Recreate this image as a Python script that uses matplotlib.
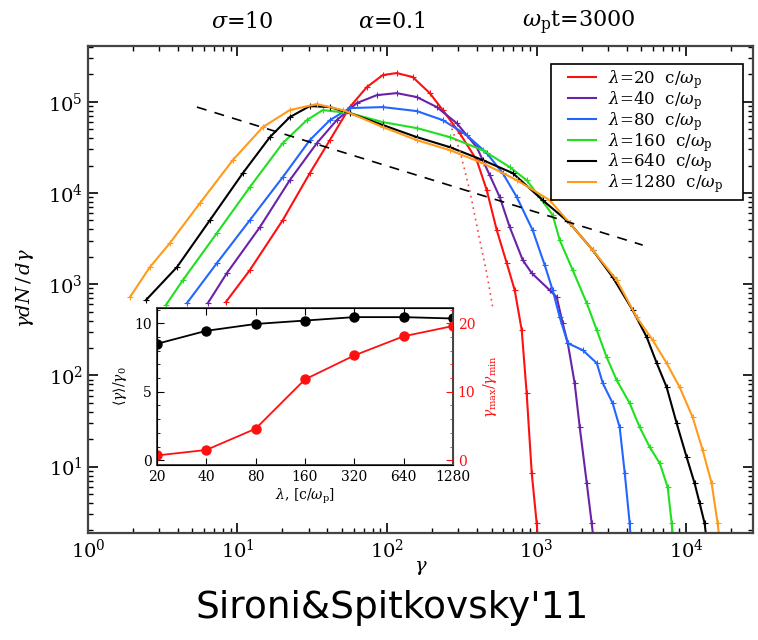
import numpy as np
import matplotlib
matplotlib.use('Agg')
import matplotlib.pyplot as plt
from matplotlib.patches import Rectangle
from matplotlib.ticker import MultipleLocator, FixedLocator, NullLocator

plt.rcParams['font.family'] = ['DejaVu Serif']
plt.rcParams['mathtext.fontset'] = 'dejavuserif'

# spectra, stored as log10(gamma) and log10(gamma dN/dgamma)
red_lgx = [0.922, 1.083, 1.303, 1.484, 1.618, 1.751, 1.865, 1.972, 2.065, 2.172, 2.286, 2.373,
           2.486, 2.600, 2.667, 2.734, 2.801, 2.854, 2.901, 2.934, 2.968, 3.001, 3.010]
red_lgy = [2.804, 3.155, 3.703, 4.218, 4.580, 4.942, 5.161, 5.293, 5.315, 5.271, 5.095, 4.909,
           4.657, 4.361, 4.032, 3.593, 3.231, 2.935, 2.497, 1.806, 0.929, 0.380, 0.190]
purple_lgx = [0.802, 0.929, 1.150, 1.350, 1.531, 1.664, 1.798, 1.932, 2.065, 2.199, 2.333, 2.466,
              2.600, 2.687, 2.754, 2.821, 2.908, 2.968, 3.088, 3.135, 3.175, 3.209, 3.255, 3.289,
              3.336, 3.369, 3.382]
purple_lgy = [2.793, 3.122, 3.626, 4.141, 4.547, 4.799, 4.986, 5.073, 5.095, 5.052, 4.942, 4.766,
              4.503, 4.196, 3.955, 3.626, 3.264, 3.122, 2.935, 2.859, 2.573, 2.354, 1.916, 1.433,
              0.819, 0.380, 0.190]
blue_lgx = [0.662, 0.862, 1.083, 1.303, 1.484, 1.618, 1.751, 1.972, 2.199, 2.373, 2.533, 2.667,
            2.774, 2.868, 2.974, 3.055, 3.108, 3.155, 3.209, 3.309, 3.403, 3.443, 3.509, 3.556,
            3.590, 3.623, 3.630]
blue_lgy = [2.793, 3.231, 3.703, 4.174, 4.580, 4.799, 4.931, 4.942, 4.898, 4.799, 4.635, 4.437,
            4.218, 3.955, 3.593, 3.209, 2.935, 2.639, 2.354, 2.277, 2.135, 1.916, 1.696, 1.433,
            0.929, 0.380, 0.190]
green_lgx = [0.521, 0.635, 0.862, 1.083, 1.303, 1.464, 1.571, 1.751, 1.972, 2.199, 2.420, 2.640,
             2.821, 2.934, 3.021, 3.108, 3.155, 3.242, 3.336, 3.403, 3.469, 3.536, 3.623, 3.690,
             3.757, 3.824, 3.877, 3.904, 3.910]
green_lgy = [2.771, 3.045, 3.560, 4.065, 4.547, 4.799, 4.909, 4.876, 4.777, 4.712, 4.613, 4.470,
             4.284, 4.141, 3.955, 3.758, 3.484, 3.155, 2.793, 2.497, 2.201, 1.948, 1.696, 1.433,
             1.214, 1.038, 0.775, 0.380, 0.190]
black_lgx = [0.388, 0.595, 0.816, 1.036, 1.217, 1.350, 1.484, 1.618, 1.751, 1.972, 2.199, 2.420,
             2.640, 2.841, 3.041, 3.222, 3.376, 3.509, 3.643, 3.737, 3.804, 3.870, 3.937, 4.004,
             4.057, 4.091, 4.124, 4.138]
black_lgy = [2.826, 3.187, 3.703, 4.218, 4.613, 4.832, 4.953, 4.942, 4.876, 4.745, 4.613, 4.503,
             4.361, 4.218, 3.922, 3.670, 3.374, 3.078, 2.716, 2.420, 2.135, 1.872, 1.477, 1.104,
             0.819, 0.600, 0.380, 0.190]
orange_lgx = [0.281, 0.414, 0.548, 0.749, 0.969, 1.170, 1.350, 1.531, 1.705, 1.972, 2.199, 2.420,
              2.640, 2.868, 3.088, 3.222, 3.376, 3.536, 3.670, 3.777, 3.870, 3.957, 4.044, 4.111,
              4.171, 4.211, 4.225]
orange_lgy = [2.859, 3.187, 3.451, 3.889, 4.361, 4.723, 4.909, 4.975, 4.909, 4.723, 4.580, 4.470,
              4.328, 4.141, 3.922, 3.670, 3.374, 3.045, 2.639, 2.387, 2.135, 1.872, 1.543, 1.181,
              0.819, 0.380, 0.190]

# exponential cutoff fit of the lambda=20 run (dotted)
fit_lgx = [2.420, 2.486, 2.553, 2.620, 2.667, 2.707]
fit_lgy = [4.766, 4.470, 4.032, 3.484, 3.122, 2.749]
# power law guide (dashed)
pl_lgx = [0.729, 3.710]
pl_lgy = [4.942, 3.429]

labels = ['20', '40', '80', '160', '640', '1280']
colors = ['#ff1010', '#6a22a8', '#2266ff', '#20e020', '#000000', '#ff9a1a']
curves = [(red_lgx, red_lgy), (purple_lgx, purple_lgy), (blue_lgx, blue_lgy),
          (green_lgx, green_lgy), (black_lgx, black_lgy), (orange_lgx, orange_lgy)]

# inset: mean energy and gamma_max/gamma_min vs stripe wavelength
inset_lam = [20, 40, 80, 160, 320, 640, 1280]
mean_gamma = [8.5, 9.45, 9.95, 10.2, 10.45, 10.45, 10.35]
gmax_gmin = [0.7, 1.5, 4.6, 11.8, 15.3, 18.1, 19.6]

fig = plt.figure(figsize=(7.58, 6.40), dpi=100)
ax = fig.add_axes([0.116, 0.167, 0.877, 0.761])

for (lx, ly), lab, c in zip(curves, labels, colors):
    ax.plot(10**np.array(lx), 10**np.array(ly), color=c, lw=1.5, marker='+', ms=4, mew=0.8,
            label=r'$\lambda$=' + lab + r'  c/$\omega_{\rm p}$')
ax.plot(10**np.array(fit_lgx), 10**np.array(fit_lgy), color='#ff4040', lw=1.2, ls=(0, (1, 2.5)))
ax.plot(10**np.array(pl_lgx), 10**np.array(pl_lgy), color='k', lw=1.2, ls=(0, (6, 5)))

ax.set_xscale('log')
ax.set_yscale('log')
ax.set_xlim(1, 2.79e4)
ax.set_ylim(1.87, 4.08e5)
ax.tick_params(which='both', direction='in', top=True, right=True, labelsize=14)
ax.tick_params(which='major', length=7, width=1.2)
ax.tick_params(which='minor', length=3.5, width=1.0)
ax.tick_params(axis='x', pad=4)
for s in ax.spines.values():
    s.set_linewidth(1.6)
    s.set_color('#444444')

# legend box drawn by hand (IDL style: wide left margin, tight rows)
ax.add_patch(Rectangle((0.696, 0.684), 0.289, 0.279, transform=ax.transAxes, facecolor='white',
                       edgecolor='k', lw=1.2, zorder=4))
leg = ax.legend(loc='upper left', bbox_to_anchor=(0.722, 0.955), fontsize=12, frameon=False,
                handlelength=1.7, handletextpad=0.7, labelspacing=-0.12, borderpad=0.0,
                borderaxespad=0.0)
leg.set_zorder(5)
for h in leg.get_lines():
    h.set_marker('')

fig.text(0.320, 0.957, r'$\sigma$=10', ha='center', va='baseline', fontsize=16)
fig.text(0.517, 0.957, r'$\alpha$=0.1', ha='center', va='baseline', fontsize=16)
fig.text(0.763, 0.957, r'$\omega_{\rm p}$t=3000', ha='center', va='baseline', fontsize=16)
fig.text(0.555, 0.112, r'$\gamma$', ha='center', va='center', fontsize=14)
fig.text(0.033, 0.55, r'$\gamma dN\,/\,d\gamma$', ha='center', va='center', rotation=90, fontsize=14)
fig.text(0.518, 0.050, "Sironi&Spitkovsky'11", ha='center', va='center', fontsize=27,
         family=['DejaVu Sans'])

axi = fig.add_axes([0.207, 0.2734, 0.3905, 0.245])
axi.set_facecolor('white')
axi.plot(inset_lam, mean_gamma, color='k', lw=1.3, marker='o', ms=6.5)
axi.set_xscale('log', base=2)
axi.set_xlim(20, 1280)
axi.xaxis.set_major_locator(FixedLocator(inset_lam))
axi.xaxis.set_minor_locator(NullLocator())
axi.set_xticklabels([str(v) for v in inset_lam])
axi.set_ylim(-0.35, 11.1)
axi.yaxis.set_major_locator(MultipleLocator(5))
axi.yaxis.set_minor_locator(MultipleLocator(1))
axi.tick_params(which='both', direction='in', top=True, labelsize=10)
axi.tick_params(which='major', length=5)
axi.tick_params(which='minor', length=2.5)
axi.set_xlabel(r'$\lambda$, [c/$\omega_{\rm p}$]', fontsize=10, labelpad=2)
axi.set_ylabel(r'$\langle\gamma\rangle/\gamma_0$', fontsize=10, labelpad=4)
for s in axi.spines.values():
    s.set_linewidth(1.4)
    s.set_color('#444444')

axr = axi.twinx()
axr.plot(inset_lam, gmax_gmin, color='#ff1010', lw=1.3, marker='o', ms=6.5)
axr.set_ylim(-0.7, 22.2)
axr.yaxis.set_major_locator(MultipleLocator(10))
axr.yaxis.set_minor_locator(MultipleLocator(2))
axr.tick_params(which='both', direction='in', labelsize=10, colors='#ff1010')
axr.tick_params(which='major', length=5)
axr.tick_params(which='minor', length=2.5)
axr.set_ylabel(r'$\gamma_{\rm max}/\gamma_{\rm min}$', fontsize=10, color='#ff1010', labelpad=4)
axr.spines['right'].set_color('#444444')

fig.savefig('out.png', dpi=100)
